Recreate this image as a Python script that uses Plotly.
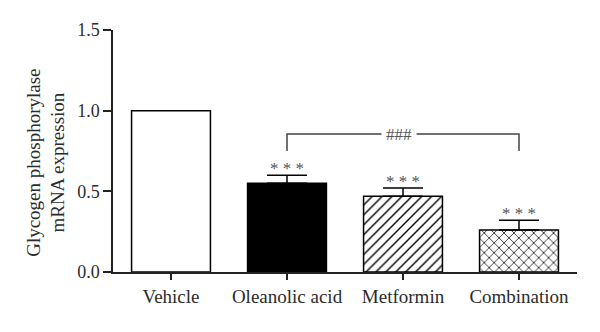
import plotly.graph_objects as go

# Relative hepatic glycogen phosphorylase mRNA expression by treatment group
groups = ["Vehicle", "Oleanolic acid", "Metformin", "Combination"]
expression = [1.0, 0.55, 0.47, 0.26]
sem = [0.0, 0.05, 0.05, 0.06]
significance = ["", "* * *", "* * *", "* * *"]
y_ticks = [0.0, 0.5, 1.0, 1.5]
y_tick_text = ["0.0", "0.5", "1.0", "1.5"]
bracket_pair = ["Oleanolic acid", "Combination"]
bracket_label = "###"
bracket_level = 0.855
bracket_foot = 0.75

FONT = "Liberation Serif, Times New Roman, serif"
TEXT = "#2b2b2b"

fills = ["white", "black", "white", "white"]
hatches = ["", "", "/", "x"]
hatch_sizes = [7, 7, 7, 7]

fig = go.Figure()
for g, v, e, c, h, hs in zip(groups, expression, sem, fills, hatches, hatch_sizes):
    marker = dict(color=c, line=dict(color="black", width=1.5))
    if h:
        marker["pattern"] = dict(shape=h, fgcolor="black", fgopacity=1,
                                 size=hs, solidity=0.2, fillmode="overlay")
    fig.add_trace(go.Bar(
        x=[g], y=[v], width=0.68, marker=marker,
        error_y=dict(type="data", symmetric=False, array=[e], arrayminus=[0],
                     color="black", thickness=1.5, width=20, visible=e > 0),
        showlegend=False,
    ))

# Significance markers above the error bars
for g, v, e, s in zip(groups, expression, sem, significance):
    if s:
        fig.add_annotation(x=g, y=v + e, text=s, showarrow=False,
                           yanchor="bottom", yshift=-5,
                           font=dict(family=FONT, size=17, color="#555555"))

# Comparison bracket between the two treatment groups
i0, i1 = groups.index(bracket_pair[0]), groups.index(bracket_pair[1])
fig.add_shape(type="path", xref="x", yref="y",
              path=f"M {i0},{bracket_foot} L {i0},{bracket_level} "
                   f"L {i1},{bracket_level} L {i1},{bracket_foot}",
              line=dict(color="#444444", width=1.5))
fig.add_annotation(x=(i0 + i1) / 2 - 0.035, y=bracket_level, text=bracket_label,
                   showarrow=False, bgcolor="white", borderpad=4,
                   font=dict(family=FONT, size=17, color="#555555"))

# Y-axis title as two centered lines
fig.add_annotation(xref="paper", yref="paper", x=-0.145, y=0.45,
                   text="Glycogen phosphorylase<br>mRNA expression",
                   textangle=-90, showarrow=False, xanchor="center", yanchor="middle",
                   font=dict(family=FONT, size=19, color=TEXT))

fig.update_layout(
    width=600, height=332,
    margin=dict(l=113, r=23, t=30, b=60),
    paper_bgcolor="white", plot_bgcolor="white",
    font=dict(family=FONT, size=18, color=TEXT),
    barmode="overlay",
)
fig.update_xaxes(
    type="category", range=[-0.5, 3.5],
    showline=True, linecolor="#222222", linewidth=1.5,
    ticks="outside", ticklen=6, tickwidth=1.5, tickcolor="#222222",
    showgrid=False, zeroline=False,
    tickfont=dict(family=FONT, size=19, color=TEXT),
)
fig.update_yaxes(
    range=[0, 1.5], tickvals=y_ticks, ticktext=y_tick_text,
    showline=True, linecolor="#222222", linewidth=1.5,
    ticks="outside", ticklen=8, tickwidth=1.5, tickcolor="#222222",
    showgrid=False, zeroline=False,
    tickfont=dict(family=FONT, size=18, color=TEXT),
)

fig.write_html("out.html")
